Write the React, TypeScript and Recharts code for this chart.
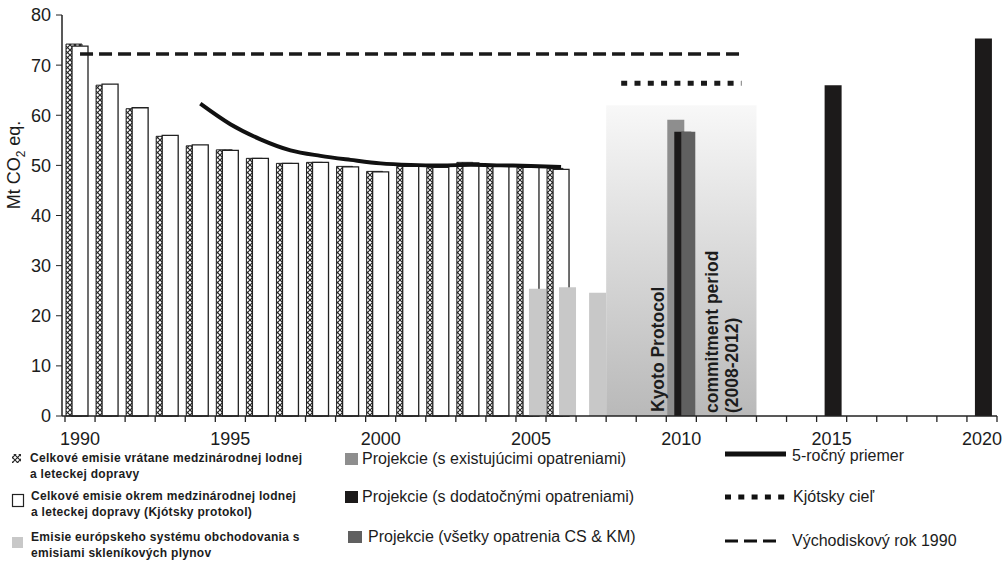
import React from 'react';
import { ComposedChart, Bar, Line, XAxis, YAxis, ReferenceArea } from 'recharts';

const FONT = '"Liberation Sans", Arial, sans-serif';
const INK = '#1c1c1c';

const years = ['1990','1991','1992','1993','1994','1995','1996','1997','1998','1999','2000','2001','2002','2003','2004','2005','2006','2007','2008','2009','2010','2011','2012','2013','2014','2015','2016','2017','2018','2019','2020'];
const labelYears = ['1990','1995','2000','2005','2010','2015','2020'];
const yTicks = [0, 10, 20, 30, 40, 50, 60, 70, 80];

const historyYears = ['1990','1991','1992','1993','1994','1995','1996','1997','1998','1999','2000','2001','2002','2003','2004','2005','2006'];
const totalInclBunkers = [74.2, 66.0, 61.3, 55.8, 53.9, 53.1, 51.4, 50.4, 50.6, 49.8, 48.8, 49.8, 49.6, 50.6, 49.9, 49.6, 49.4];
const totalKyoto = [73.8, 66.2, 61.5, 56.0, 54.1, 53.0, 51.4, 50.4, 50.6, 49.7, 48.7, 49.8, 49.6, 50.5, 49.9, 49.6, 49.2];

const etsYears = ['2005','2006','2007'];
const etsValues = [25.4, 25.7, 24.6];

const avgYears = ['1994','1995','1996','1997','1998','1999','2000','2001','2002','2003','2004','2005','2006'];
const avgValues = [62.3, 58.2, 55.2, 53.0, 51.9, 51.1, 50.4, 50.1, 50.0, 50.1, 50.0, 49.9, 49.7];

const projExistingYears = ['2010'];
const projExistingValues = [59.1];
const projAdditionalYears = ['2010','2015','2020'];
const projAdditionalValues = [56.7, 66.0, 75.3];
const projAllYears = ['2010'];
const projAllValues = [56.7];

const kyotoTargetYears = ['2008','2009','2010','2011','2012'];
const kyotoTargetValues = [66.4, 66.4, 66.4, 66.4, 66.4];

const baselineYears = ['1990','1991','1992','1993','1994','1995','1996','1997','1998','1999','2000','2001','2002','2003','2004','2005','2006','2007','2008','2009','2010','2011','2012'];
const baselineValues = [72.2, 72.2, 72.2, 72.2, 72.2, 72.2, 72.2, 72.2, 72.2, 72.2, 72.2, 72.2, 72.2, 72.2, 72.2, 72.2, 72.2, 72.2, 72.2, 72.2, 72.2, 72.2, 72.2];

const commitmentStart = '2008';
const commitmentEnd = '2012';
const commitmentTop = 62;

function pick(keys: string[], vals: number[], y: string) {
  const i = keys.indexOf(y);
  return i >= 0 ? vals[i] : null;
}

const data = years.map((y) => ({
  year: y,
  incl: pick(historyYears, totalInclBunkers, y),
  kyoto: pick(historyYears, totalKyoto, y),
  ets: pick(etsYears, etsValues, y),
  pExist: pick(projExistingYears, projExistingValues, y),
  pAdd: pick(projAdditionalYears, projAdditionalValues, y),
  pAll: pick(projAllYears, projAllValues, y),
  avg: pick(avgYears, avgValues, y),
  target: pick(kyotoTargetYears, kyotoTargetValues, y),
  base: pick(baselineYears, baselineValues, y),
}));

function YearTick(props: any) {
  const { x, y, payload, index } = props;
  const half = payload && typeof payload.offset === 'number' && payload.offset > 0 ? payload.offset : 15.03;
  const show = labelYears.includes(String(payload.value));
  return (
    <g>
      <line x1={x - half} y1={y} x2={x - half} y2={y + 6} stroke="#222" strokeWidth={1.3} />
      {index === years.length - 1 && (
        <line x1={x + half} y1={y} x2={x + half} y2={y + 6} stroke="#222" strokeWidth={1.3} />
      )}
      {show && (
        <text x={x} y={y + 29} textAnchor="middle" fontSize={18} fill={INK} fontFamily={FONT}>
          {payload.value}
        </text>
      )}
    </g>
  );
}

function YLabel() {
  return (
    <text
      x={20}
      y={165}
      transform="rotate(-90, 20, 165)"
      textAnchor="middle"
      fontSize={18}
      fill={INK}
      fontFamily={FONT}
    >
      <tspan>Mt CO</tspan>
      <tspan fontSize={12} dy={5}>2</tspan>
      <tspan dy={-5}> eq.</tspan>
    </text>
  );
}

const abs = (left: number, top: number, extra: React.CSSProperties = {}): React.CSSProperties => ({
  position: 'absolute',
  left,
  top,
  ...extra,
});

export default function App() {
  const col1Text: React.CSSProperties = { fontSize: 12, letterSpacing: '0.3px', fontWeight: 'bold', lineHeight: '16px', color: INK, fontFamily: FONT, whiteSpace: 'nowrap' };
  const col2Text: React.CSSProperties = { fontSize: 16, lineHeight: '18px', color: INK, fontFamily: FONT, whiteSpace: 'nowrap' };
  const col3Text: React.CSSProperties = { fontSize: 16, lineHeight: '14px', color: INK, fontFamily: FONT, whiteSpace: 'nowrap' };
  return (
    <div style={{ position: 'fixed', left: 0, top: 0, width: 1002, height: 565, background: '#fff', overflow: 'hidden' }}>
      <svg width={0} height={0} style={{ position: 'absolute' }}>
        <defs>
          <pattern id="crossHatch" width={5} height={5} patternUnits="userSpaceOnUse">
            <rect width={5} height={5} fill="#fff" />
            <path d="M0,0 L5,5 M5,0 L0,5" stroke="#222" strokeWidth={1.1} />
          </pattern>
          <linearGradient id="kyotoShade" x1="0" y1="0" x2="0" y2="1">
            <stop offset="0" stopColor="#f8f8f8" />
            <stop offset="1" stopColor="#b9b9b9" />
          </linearGradient>
        </defs>
      </svg>
      <ComposedChart
        width={1002}
        height={565}
        data={data}
        margin={{ top: 15, right: 5, bottom: 0, left: 0 }}
        barGap={-10}
      >
        <XAxis
          xAxisId="a"
          dataKey="year"
          type="category"
          interval={0}
          height={149}
          padding={{ left: 3, right: 0 }}
          tickLine={false}
          tickSize={0}
          tickMargin={0}
          axisLine={{ stroke: '#222', strokeWidth: 1.5 }}
          tick={<YearTick />}
        />
        <XAxis
          xAxisId="b"
          dataKey="year"
          type="category"
          height={0}
          padding={{ left: 3, right: 0 }}
          axisLine={false}
          tickLine={false}
          tick={false}
        />
        <YAxis
          domain={[0, 80]}
          ticks={yTicks}
          interval={0}
          width={62}
          tickSize={6}
          tickMargin={5}
          axisLine={{ stroke: '#222', strokeWidth: 1.5 }}
          tickLine={{ stroke: '#222' }}
          tick={{ fontSize: 18, fill: INK, fontFamily: FONT }}
          label={{ content: () => <YLabel /> }}
        />
        <ReferenceArea
          xAxisId="a"
          x1={commitmentStart}
          x2={commitmentEnd}
          y1={0}
          y2={commitmentTop}
          fill="url(#kyotoShade)"
          fillOpacity={1}
          stroke="none"
          ifOverflow="visible"
        />
        <Bar xAxisId="a" dataKey="incl" barSize={16} fill="url(#crossHatch)" stroke="#222" strokeWidth={1} isAnimationActive={false} />
        <Bar xAxisId="a" dataKey="kyoto" barSize={16} fill="#fff" stroke="#222" strokeWidth={1.3} isAnimationActive={false} />
        <Bar xAxisId="a" dataKey="ets" barSize={17} fill="#c8c8c8" isAnimationActive={false} />
        <Bar xAxisId="b" dataKey="pExist" barSize={17} fill="#8e8e8e" isAnimationActive={false} />
        <Bar xAxisId="b" dataKey="pAdd" barSize={17} fill="#1c1a1a" isAnimationActive={false} />
        <Bar xAxisId="b" dataKey="pAll" barSize={14} fill="#606060" isAnimationActive={false} />
        <Line xAxisId="a" dataKey="base" stroke="#1a1a1a" strokeWidth={3.5} strokeDasharray="13 6" dot={false} activeDot={false} type="linear" isAnimationActive={false} />
        <Line xAxisId="a" dataKey="target" stroke="#1a1a1a" strokeWidth={5} strokeDasharray="6 7.3" dot={false} activeDot={false} type="linear" isAnimationActive={false} />
        <Line xAxisId="a" dataKey="avg" stroke="#111" strokeWidth={4} dot={false} activeDot={false} type="monotone" isAnimationActive={false} />
      </ComposedChart>

      <svg width={1002} height={565} style={{ position: 'absolute', left: 0, top: 0, pointerEvents: 'none' }}>
        <g fontFamily={FONT} fill={INK} fontWeight="bold" fontSize={17.5}>
          <text x={664} y={412} transform="rotate(-90, 664, 412)">Kyoto Protocol</text>
          <text x={718} y={413} transform="rotate(-90, 718, 413)">commitment period</text>
          <text x={738} y={413} transform="rotate(-90, 738, 413)">(2008-2012)</text>
        </g>
        <rect x={12} y={454} width={9} height={9} fill="url(#crossHatch)" />
        <rect x={12.5} y={494.5} width={11} height={12} fill="#fff" stroke="#222" strokeWidth={1.2} />
        <rect x={12} y={537} width={11} height={11} fill="#c8c8c8" />
        <rect x={345} y={453} width={13} height={12} fill="#8e8e8e" />
        <rect x={345} y={491} width={13} height={12} fill="#1c1a1a" />
        <rect x={348} y={531} width={14} height={12} fill="#606060" />
        <line x1={725} y1={454} x2={786} y2={454} stroke="#111" strokeWidth={5} />
        <line x1={725} y1={497} x2={789} y2={497} stroke="#111" strokeWidth={5} strokeDasharray="6 7.3" />
        <line x1={725} y1={541} x2={780} y2={541} stroke="#111" strokeWidth={3} strokeDasharray="13 6" />
      </svg>

      <div style={abs(30, 450, col1Text)}>Celkové emisie vrátane medzinárodnej lodnej<br />a leteckej dopravy</div>
      <div style={abs(31, 488, col1Text)}>Celkové emisie okrem medzinárodnej lodnej<br />a leteckej dopravy (Kjótsky protokol)</div>
      <div style={abs(31, 529, col1Text)}>Emisie európskeho systému obchodovania s<br />emisiami skleníkových plynov</div>

      <div style={abs(362, 450, col2Text)}>Projekcie (s existujúcimi opatreniami)</div>
      <div style={abs(362, 488, col2Text)}>Projekcie (s dodatočnými opatreniami)</div>
      <div style={abs(368, 528, col2Text)}>Projekcie (všetky opatrenia CS &amp; KM)</div>

      <div style={abs(792, 449, col3Text)}>5-ročný priemer</div>
      <div style={abs(793, 490, col3Text)}>Kjótsky cieľ</div>
      <div style={abs(792, 534, col3Text)}>Východiskový rok 1990</div>
    </div>
  );
}
